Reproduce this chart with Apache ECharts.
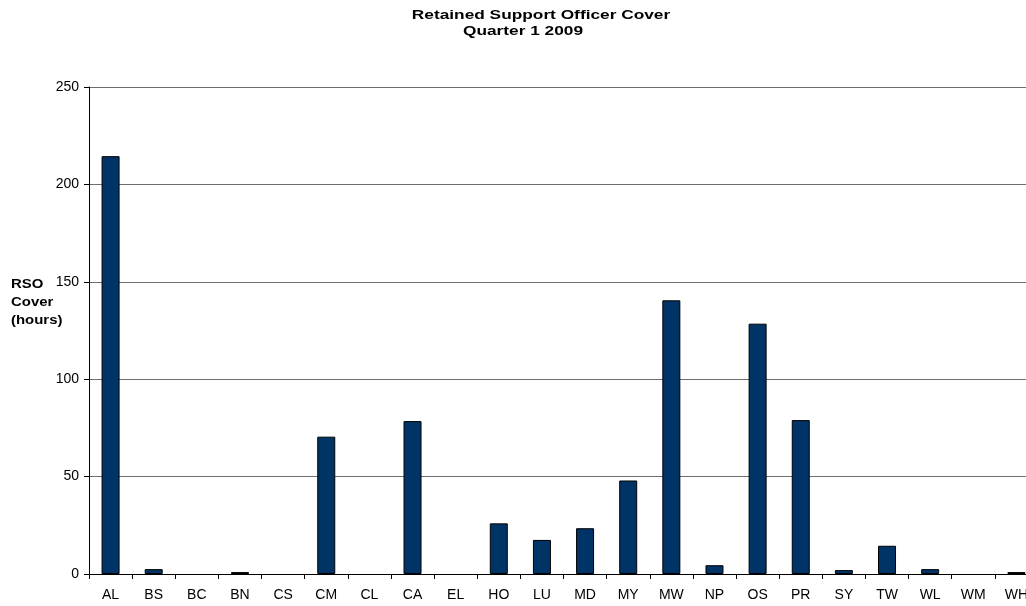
<!DOCTYPE html>
<html>
<head>
<meta charset="utf-8">
<script src="https://cdn.jsdelivr.net/npm/echarts@6/dist/echarts.min.js"></script>
<style>html,body{margin:0;padding:0;background:#fff;}#c{width:1026px;height:606px;}</style>
</head>
<body>
<div id="c"></div>
<script>
const titleLine1 = 'Retained Support Officer Cover';
const titleLine2 = 'Quarter 1 2009';
const yAxisTitle = 'RSO\nCover\n(hours)';
const categories = ['AL','BS','BC','BN','CS','CM','CL','CA','EL','HO','LU','MD','MY','MW','NP','OS','PR','SY','TW','WL','WM','WH'];
const values = [214.5, 2.5, 0, 1, 0, 70.5, 0, 78.5, 0, 26, 17.5, 23.5, 48, 140.5, 4.5, 128.5, 79, 2, 14.5, 2.5, 0, 1];
const yTicks = [0, 50, 100, 150, 200, 250];

const chart = echarts.init(document.getElementById('c'), null, {renderer: 'canvas'});
const font = '"Liberation Sans", Arial, sans-serif';
chart.setOption({
  animation: false,
  backgroundColor: '#ffffff',
  graphic: [
    {type: 'text', x: 541, y: 15, scaleX: 1.33, scaleY: 1,
     style: {text: titleLine1, font: 'bold 13px ' + font, fill: '#000', align: 'center', verticalAlign: 'middle'}},
    {type: 'text', x: 523, y: 31, scaleX: 1.33, scaleY: 1,
     style: {text: titleLine2, font: 'bold 13px ' + font, fill: '#000', align: 'center', verticalAlign: 'middle'}},
    {type: 'text', x: 11, y: 275, scaleX: 1.15, scaleY: 1,
     style: {text: yAxisTitle, font: 'bold 13px ' + font, fill: '#000', lineHeight: 18, align: 'left', verticalAlign: 'top'}}
  ],
  grid: {left: 89, top: 87, width: 949, height: 487, containLabel: false, outerBoundsMode: 'none'},
  xAxis: {
    type: 'category', data: categories, boundaryGap: true,
    axisLine: {show: true, lineStyle: {color: '#000', width: 1}},
    axisTick: {show: true, alignWithLabel: false, length: 5, lineStyle: {color: '#000'}},
    axisLabel: {fontFamily: font, fontSize: 14, color: '#000', margin: 14, interval: 0},
    splitLine: {show: false}
  },
  yAxis: {
    type: 'value', min: yTicks[0], max: yTicks[yTicks.length - 1], interval: 50,
    axisLine: {show: true, lineStyle: {color: '#000', width: 1}},
    axisTick: {show: true, length: 5, lineStyle: {color: '#000'}},
    axisLabel: {fontFamily: font, fontSize: 14, color: '#000', margin: 10},
    splitLine: {show: true, lineStyle: {color: '#6e6e6e', width: 1}}
  },
  series: [{
    type: 'bar', data: values.map(v => (v === 0 ? '-' : v)), barWidth: 18,
    itemStyle: {color: '#003366', borderColor: '#000', borderWidth: 1}
  }]
});
</script>
</body>
</html>
